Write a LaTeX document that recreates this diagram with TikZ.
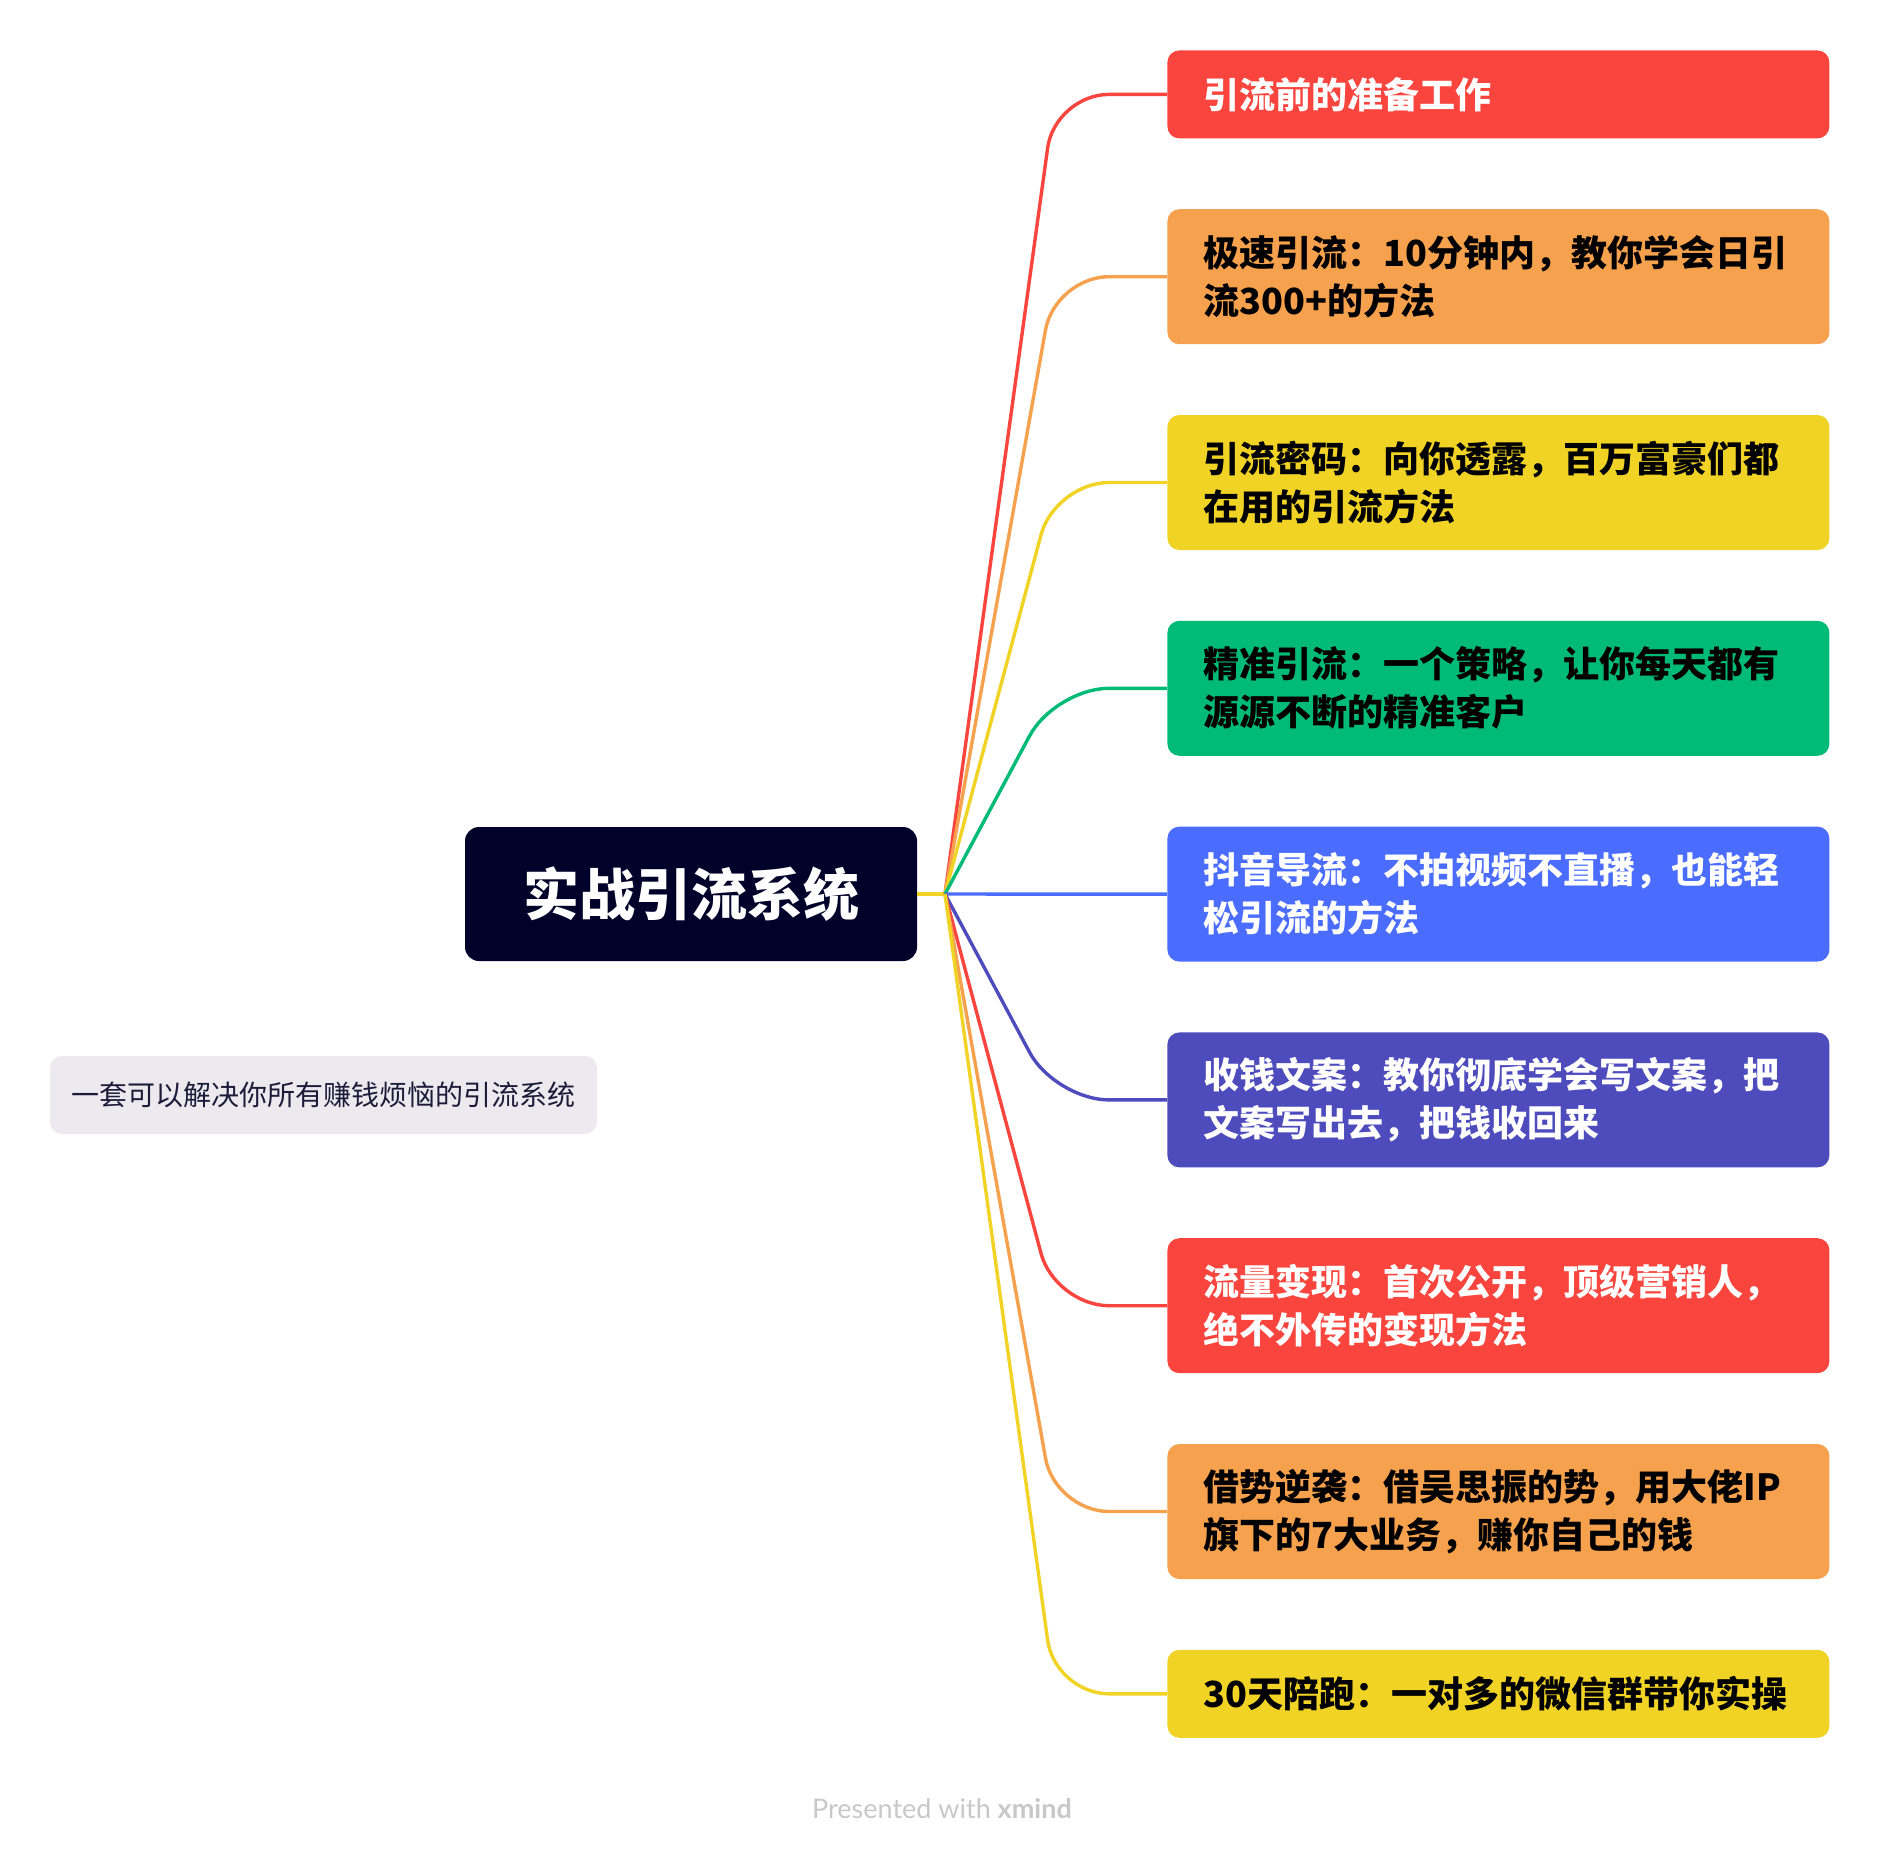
\documentclass[tikz,border=0pt]{standalone}
\usepackage{fontspec}
\setmainfont{Noto Sans CJK SC}
\newfontfamily\footfont{Lato}
\usepackage{xcolor}
\usetikzlibrary{positioning}
\definecolor{mapred}{HTML}{F9453D}
\definecolor{maporange}{HTML}{F5A14D}
\definecolor{mapyellow}{HTML}{F0D325}
\definecolor{mapgreen}{HTML}{00BA78}
\definecolor{mapblue}{HTML}{4A6DFF}
\definecolor{mappurple}{HTML}{4E4BBD}
\definecolor{mapnavy}{HTML}{000229}
\definecolor{notegray}{HTML}{ECEAEE}
\definecolor{notetext}{HTML}{1C1C3A}
\definecolor{footgray}{HTML}{C8C8C8}

\begin{document}
\begin{tikzpicture}[x=0.5pt, y=-0.5pt,
  topic/.style={rounded corners=6pt, text width=295pt, inner xsep=18pt,
                inner ysep=0pt, minimum height=44pt, align=left,
                font=\fontsize{18}{24}\selectfont\bfseries},
  tall/.style={minimum height=67.5pt},
  branch/.style={line width=1.7pt, rounded corners=27pt}
]
\useasboundingbox (0,0) rectangle (1880,1858);
\node[fill=mapnavy, text=white, rounded corners=7pt, minimum width=226pt,
      minimum height=67pt, font=\fontsize{28}{34}\selectfont\bfseries]
  (root) at (691,894) {实战引流系统};
\coordinate (hub) at (945,894);
\node[fill=notegray, text=notetext, rounded corners=6pt, minimum width=273.5pt,
      minimum height=39pt, font=\fontsize{14}{18}\selectfont]
  (note) at (323.5,1095) {一套可以解决你所有赚钱烦恼的引流系统};

\node[topic, fill=mapred, text=white, anchor=north west] (b1) at (1167,50) {引流前的准备工作};
\node[topic, tall, fill=maporange, below=35pt of b1] (b2) {极速引流：10分钟内，教你学会日引\\流300+的方法};
\node[topic, tall, fill=mapyellow, below=35pt of b2] (b3) {引流密码：向你透露，百万富豪们都\\在用的引流方法};
\node[topic, tall, fill=mapgreen, below=35pt of b3] (b4) {精准引流：一个策略，让你每天都有\\源源不断的精准客户};
\node[topic, tall, fill=mapblue, text=white, below=35pt of b4] (b5) {抖音导流：不拍视频不直播，也能轻\\松引流的方法};
\node[topic, tall, fill=mappurple, text=white, below=35pt of b5] (b6) {收钱文案：教你彻底学会写文案，把\\文案写出去，把钱收回来};
\node[topic, tall, fill=mapred, text=white, below=35pt of b6] (b7) {流量变现：首次公开，顶级营销人，\\绝不外传的变现方法};
\node[topic, tall, fill=maporange, below=35pt of b7] (b8) {借势逆袭：借吴思振的势，用大佬IP\\旗下的7大业务，赚你自己的钱};
\node[topic, fill=mapyellow, below=35pt of b8] (b9) {30天陪跑：一对多的微信群带你实操};

\draw[branch, mapyellow] (root.east) -- (hub);
\foreach \b/\c in {b1/mapred, b2/maporange, b3/mapyellow, b4/mapgreen, b5/mapblue,
                   b6/mappurple, b7/mapred, b8/maporange, b9/mapyellow}
  \draw[branch, \c] (hub) -- ([xshift=-56pt]\b.west) -- (\b.west);

\node[text=footgray, font=\footfont\fontsize{13.5}{16}\selectfont] (foot) at (942,1809)
  {Presented with \textbf{xmind}};
\end{tikzpicture}
\end{document}
